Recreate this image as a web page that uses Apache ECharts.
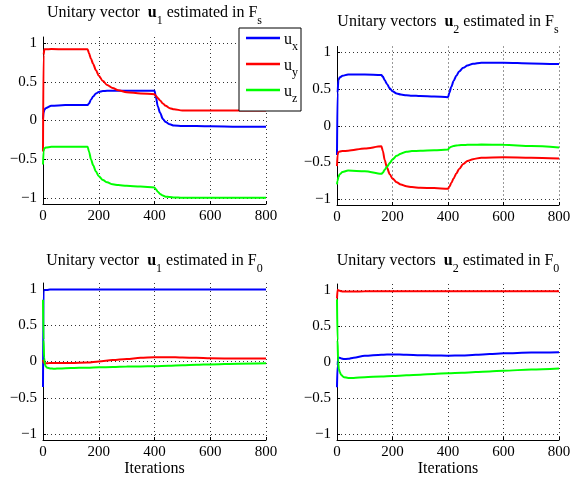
<!DOCTYPE html>
<html><head><meta charset="utf-8">
<script src="https://cdn.jsdelivr.net/npm/echarts@6/dist/echarts.min.js"></script>
<style>html,body{margin:0;padding:0;background:#fff}#c{width:576px;height:478px}</style>
</head><body><div id="c"></div>
<script>
// ---- Data ----
const xTicks = [0, 200, 400, 600, 800];
const yTicks = [-1, -0.5, 0, 0.5, 1];
const seriesNames = ['ux', 'uy', 'uz'];

// Panel 1: u1 estimated in Fs
const x1 = [0,2,5,10,30,80,160,165,172,180,190,200,215,230,250,270,300,350,400,405,412,420,430,440,455,470,500,600,700,800];
const u1s_x = [0.02,0.1,0.14,0.16,0.19,0.2,0.2,0.22,0.27,0.31,0.35,0.37,0.38,0.385,0.385,0.385,0.385,0.385,0.385,0.3,0.18,0.1,0.02,-0.02,-0.05,-0.065,-0.07,-0.075,-0.08,-0.08];
const u1s_y = [-0.4,0.85,0.92,0.92,0.925,0.92,0.92,0.87,0.8,0.73,0.65,0.58,0.51,0.46,0.42,0.39,0.365,0.35,0.34,0.32,0.29,0.26,0.22,0.19,0.16,0.145,0.13,0.13,0.13,0.13];
const u1s_z = [-0.57,-0.4,-0.36,-0.35,-0.34,-0.34,-0.34,-0.4,-0.5,-0.58,-0.66,-0.72,-0.77,-0.8,-0.825,-0.835,-0.845,-0.855,-0.865,-0.89,-0.92,-0.95,-0.97,-0.985,-0.99,-0.995,-1.0,-1.0,-1.0,-1.0];

// Panel 2: u2 estimated in Fs
const x2 = [0,2,5,10,20,40,100,160,165,172,180,190,200,215,230,250,270,300,350,400,405,412,420,430,440,455,470,490,520,600,700,800];
const u2s_x = [-0.4,0.45,0.62,0.66,0.68,0.7,0.7,0.69,0.67,0.62,0.57,0.51,0.47,0.44,0.425,0.415,0.41,0.405,0.4,0.39,0.45,0.53,0.61,0.68,0.74,0.79,0.82,0.845,0.86,0.86,0.85,0.84];
const u2s_y = [-0.55,-0.4,-0.36,-0.35,-0.345,-0.34,-0.31,-0.28,-0.34,-0.47,-0.57,-0.66,-0.72,-0.77,-0.8,-0.825,-0.835,-0.845,-0.85,-0.86,-0.83,-0.78,-0.72,-0.65,-0.59,-0.52,-0.48,-0.455,-0.435,-0.43,-0.435,-0.445];
const u2s_z = [-0.8,-0.75,-0.7,-0.66,-0.63,-0.61,-0.62,-0.655,-0.64,-0.6,-0.56,-0.51,-0.46,-0.41,-0.38,-0.355,-0.345,-0.34,-0.335,-0.325,-0.3,-0.285,-0.275,-0.27,-0.265,-0.262,-0.26,-0.258,-0.257,-0.26,-0.275,-0.295];

// Panel 3: u1 estimated in F0
const x3 = [0,2,4,7,10,15,25,40,60,100,160,200,250,300,350,400,450,500,550,600,700,800];
const u10_x = [-0.35,0.97,0.98,0.985,0.985,0.985,0.99,0.99,0.99,0.99,0.99,0.99,0.99,0.99,0.99,0.99,0.99,0.99,0.99,0.99,0.99,0.99];
const u10_y = [0.02,-0.01,-0.02,-0.025,-0.025,-0.025,-0.02,-0.02,-0.02,-0.02,-0.015,0.0,0.02,0.035,0.05,0.06,0.06,0.055,0.05,0.045,0.04,0.04];
const u10_z = [0.85,0.3,0.05,-0.04,-0.07,-0.085,-0.095,-0.1,-0.095,-0.09,-0.085,-0.08,-0.075,-0.07,-0.068,-0.065,-0.06,-0.05,-0.045,-0.04,-0.03,-0.025];

// Panel 4: u2 estimated in F0
const x4 = [0,2,4,7,10,15,25,40,60,100,160,200,250,300,350,400,450,500,550,600,700,800];
const u20_x = [-0.35,-0.05,0.04,0.06,0.06,0.05,0.04,0.045,0.06,0.085,0.1,0.105,0.1,0.095,0.09,0.088,0.09,0.1,0.11,0.12,0.13,0.135];
const u20_y = [0.88,1.0,1.0,0.99,0.985,0.98,0.975,0.975,0.975,0.978,0.98,0.98,0.98,0.98,0.98,0.98,0.98,0.98,0.98,0.98,0.98,0.98];
const u20_z = [0.87,0.3,0.0,-0.1,-0.14,-0.18,-0.21,-0.22,-0.22,-0.21,-0.2,-0.195,-0.185,-0.175,-0.165,-0.155,-0.15,-0.14,-0.13,-0.12,-0.105,-0.09];

// ---- Chart ----
const FONT = 'Liberation Serif';
const COLORS = ['#0000ff', '#ff0000', '#00ff00'];
const grids = [
  {left: 43, top: 37, width: 223, height: 167},
  {left: 337, top: 46.5, width: 222, height: 158.5},
  {left: 43, top: 283, width: 223, height: 160},
  {left: 337, top: 284, width: 222, height: 159}
];
const panels = [
  {x: x1, ys: [u1s_x, u1s_y, u1s_z], title: '{n|Unitary vector  }{b|u}{s|1}{n| estimated in F}{s|s}', titleTop: 5},
  {x: x2, ys: [u2s_x, u2s_y, u2s_z], title: '{n|Unitary vectors  }{b|u}{s|2}{n| estimated in F}{s|s}', titleTop: 14},
  {x: x3, ys: [u10_x, u10_y, u10_z], title: '{n|Unitary vector  }{b|u}{s|1}{n| estimated in F}{s|0}', titleTop: 253},
  {x: x4, ys: [u20_x, u20_y, u20_z], title: '{n|Unitary vectors  }{b|u}{s|2}{n| estimated in F}{s|0}', titleTop: 253}
];
const richTitle = {
  n: {fontFamily: FONT, fontSize: 16, fontWeight: 'normal', color: '#000', verticalAlign: 'top', lineHeight: 18},
  b: {fontFamily: FONT, fontSize: 16, fontWeight: 'bold', color: '#000', verticalAlign: 'top', lineHeight: 18},
  s: {fontFamily: FONT, fontSize: 12, fontWeight: 'normal', color: '#000', verticalAlign: 'top', lineHeight: 12, padding: [10, 0, 0, 0]}
};
const fmt = v => (v < 0 ? '\u2212' + Math.abs(v) : String(v));

const option = {
  animation: false,
  backgroundColor: '#fff',
  grid: grids,
  title: panels.map((p, i) => ({
    text: p.title,
    left: grids[i].left + grids[i].width / 2,
    textAlign: 'center',
    top: p.titleTop,
    padding: 0,
    textStyle: {fontWeight: 'normal', fontFamily: FONT, rich: richTitle}
  })),
  legend: {
    data: seriesNames,
    orient: 'vertical',
    left: 239, top: 28,
    padding: [4, 3, 6, 7],
    icon: 'rect',
    itemWidth: 34, itemHeight: 2.5, itemGap: 5,
    backgroundColor: '#fff',
    borderColor: '#000', borderWidth: 1, borderRadius: 0,
    selectedMode: false,
    formatter: name => '{n|u}{s|' + name.slice(1) + '}',
    textStyle: {
      padding: [0, 0, 0, -1],
      rich: {
        n: {fontFamily: FONT, fontSize: 16, color: '#000', verticalAlign: 'top', lineHeight: 12},
        s: {fontFamily: FONT, fontSize: 12, color: '#000', verticalAlign: 'top', lineHeight: 12, padding: [9, 0, 0, 0]}
      }
    }
  },
  xAxis: grids.map((g, i) => ({
    gridIndex: i, type: 'value', min: 0, max: 800, interval: 200,
    axisLine: {show: true, onZero: false, lineStyle: {color: '#000', width: 1}},
    axisTick: {show: true, inside: true, length: 3, customValues: xTicks, lineStyle: {color: '#000'}},
    axisLabel: {fontFamily: FONT, fontSize: 15, color: '#000', margin: 5, customValues: xTicks, formatter: fmt},
    splitLine: {show: true, lineStyle: {color: '#333', type: [1, 3], width: 1}},
    name: i >= 2 ? 'Iterations' : '',
    nameLocation: 'middle', nameGap: 21,
    nameTextStyle: {fontFamily: FONT, fontSize: 16, color: '#000'}
  })),
  yAxis: grids.map((g, i) => ({
    gridIndex: i, type: 'value', min: -1.08, max: 1.08,
    axisLine: {show: true, onZero: false, lineStyle: {color: '#000', width: 1}},
    axisTick: {show: true, inside: true, length: 3, customValues: yTicks, lineStyle: {color: '#000'}},
    axisLabel: {fontFamily: FONT, fontSize: 15, color: '#000', margin: 6, customValues: yTicks, formatter: fmt},
    splitLine: {show: true, lineStyle: {color: '#333', type: [1, 3], width: 1}}
  })),
  series: []
};
panels.forEach((p, i) => {
  p.ys.forEach((ys, k) => {
    option.series.push({
      name: seriesNames[k], type: 'line', xAxisIndex: i, yAxisIndex: i,
      data: p.x.map((x, j) => [x, ys[j]]),
      symbol: 'none', smooth: 0.3, smoothMonotone: 'x',
      lineStyle: {color: COLORS[k], width: 2}, itemStyle: {color: COLORS[k]},
      z: 2 + k
    });
  });
});
const chart = echarts.init(document.getElementById('c'), null, {renderer: 'canvas'});
chart.setOption(option);
</script></body></html>
